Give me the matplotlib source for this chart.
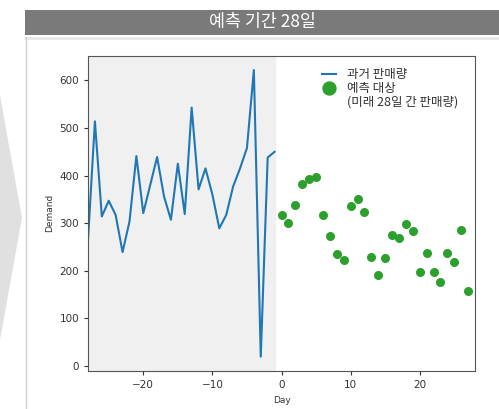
import matplotlib
matplotlib.use('Agg')
import matplotlib.pyplot as plt
from matplotlib.patches import Rectangle, Polygon
from matplotlib.lines import Line2D

plt.rcParams['font.family'] = ['Noto Sans CJK KR', 'DejaVu Sans']

# --- Data ---
past_days = list(range(-28, 0))
past_sales = [265, 514, 314, 347, 317, 239, 303, 441, 321, 380, 439, 356, 307, 425,
              319, 543, 371, 415, 360, 289, 317, 377, 415, 458, 622, 19, 438, 450]
future_days = list(range(0, 28))
future_sales = [317, 300, 339, 383, 392, 396, 317, 273, 234, 222, 337, 351, 324, 229,
                190, 226, 274, 268, 298, 283, 197, 237, 197, 176, 237, 219, 285, 157]
title_text = "예측 기간 28일"
legend_labels = ["과거 판매량", "예측 대상", "(미래 28일 간 판매량)"]

W, H = 499, 409
fig = plt.figure(figsize=(W / 100, H / 100), dpi=100)
fig.patch.set_facecolor('white')

def px(x, y, w, h):
    # pixel box (top-left origin) -> figure fraction
    return (x / W, 1 - (y + h) / H, w / W, h / H)

# --- Slide decorations: header bar, frame, chevron ---
bx, by, bw, bh = px(25, 10, 474, 25)
fig.add_artist(Rectangle((bx, by), bw, bh, transform=fig.transFigure,
                         facecolor='#7a7a7a', edgecolor='none'))
fig.text((25 + 499) / 2 / W, 1 - 22.5 / H, title_text, color='white',
         fontsize=12.5, ha='center', va='center')
fx, fy, fw, fh = px(25, 37, 474, 2.5)
fig.add_artist(Rectangle((fx, fy), fw, fh, transform=fig.transFigure,
                         facecolor='#e8e8e8', edgecolor='none'))
fig.add_artist(Line2D([25.5 / W, 25.5 / W], [0, 1 - 37 / H], transform=fig.transFigure,
                      color='#d0d0d0', lw=1))
fig.add_artist(Polygon([(0, 1 - 95 / H), (22 / W, 1 - 218 / H), (0, 1 - 340 / H)],
                       closed=True, transform=fig.transFigure,
                       facecolor='#e0e0e0', edgecolor='none'))

# --- Chart ---
ax = fig.add_axes([88 / W, 1 - 371 / H, (475 - 88) / W, (371 - 55.7) / H])
ax.axvspan(-28, -1, color='#f0f0f0', zorder=0)
line, = ax.plot(past_days, past_sales, color='#1f77b4', lw=1.5)
dots = ax.scatter(future_days, future_sales, color='#2ca02c', s=30, zorder=3)
ax.set_xlim(-28, 28)
ax.set_xticks([-20, -10, 0, 10, 20])
ax.set_yticks([0, 100, 200, 300, 400, 500, 600])
ax.tick_params(labelsize=7.5, colors='#333333', length=3)
for lab in ax.get_xticklabels() + ax.get_yticklabels():
    lab.set_family('DejaVu Sans')
for s in ax.spines.values():
    s.set_color('#555555')
ax.set_xlabel("Day", fontsize=6.5, color='#333333', family='DejaVu Sans')
ax.set_ylabel("Demand", fontsize=6.5, color='#333333', family='DejaVu Sans')

# legend: marker sits on the first line of the two-line label
blank = Line2D([], [], color='none')
leg = ax.legend([line, dots, blank], legend_labels, loc='upper left', frameon=False,
                fontsize=9, markerscale=1.7, handlelength=1.1, handletextpad=0.9,
                labelspacing=0.05, borderaxespad=0, borderpad=0,
                bbox_to_anchor=(0.605, 0.961))
for t in leg.get_texts():
    t.set_color('#333333')

fig.savefig('out.png', dpi=100)
